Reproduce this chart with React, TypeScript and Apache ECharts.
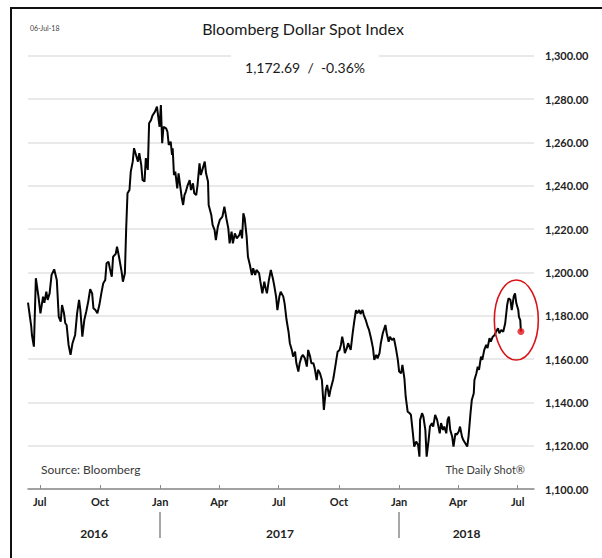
import { useEffect, useRef } from "react";
import * as echarts from "echarts";

// Bloomberg Dollar Spot Index, closes as [MM-DD, value] per year
const spot2016: [string, number][] = [
  ["06-13", 1186.0], ["06-18", 1174.9], ["06-19", 1171.1], ["06-22", 1165.7], ["06-25", 1197.3],
  ["06-29", 1188.8], ["07-02", 1181.1], ["07-06", 1188.8], ["07-08", 1185.9], ["07-11", 1191.1],
  ["07-13", 1187.3], ["07-16", 1190.3], ["07-19", 1198.8], ["07-23", 1201.4], ["07-27", 1196.5],
  ["07-30", 1179.5], ["08-02", 1177.2], ["08-04", 1184.9], ["08-07", 1181.1], ["08-09", 1176.5],
  ["08-11", 1175.7], ["08-14", 1166.5], ["08-17", 1161.9], ["08-20", 1167.3], ["08-24", 1171.1],
  ["08-27", 1181.1], ["08-30", 1187.3], ["09-01", 1182.6], ["09-04", 1170.3], ["09-07", 1178.0],
  ["09-10", 1181.9], ["09-13", 1186.5], ["09-16", 1192.2], ["09-19", 1190.3], ["09-21", 1183.4],
  ["09-24", 1182.6], ["09-27", 1181.1], ["09-30", 1184.9], ["10-03", 1190.3], ["10-06", 1195.0],
  ["10-09", 1196.5], ["10-11", 1204.2], ["10-14", 1204.9], ["10-16", 1201.9], ["10-19", 1198.0],
  ["10-21", 1207.2], ["10-25", 1208.5], ["10-27", 1211.9], ["10-30", 1207.2], ["11-03", 1200.3],
  ["11-05", 1195.7], ["11-08", 1199.6], ["11-10", 1220.3], ["11-12", 1236.5], ["11-15", 1238.0],
  ["11-17", 1246.5], ["11-20", 1251.1], ["11-22", 1257.3], ["11-25", 1254.2], ["11-28", 1251.1],
  ["11-30", 1255.0], ["12-03", 1249.6], ["12-05", 1242.6], ["12-08", 1241.9], ["12-10", 1252.7],
  ["12-13", 1247.3], ["12-15", 1268.8], ["12-18", 1270.3], ["12-20", 1272.3], ["12-24", 1274.2],
  ["12-27", 1276.5], ["12-29", 1271.8], ["12-31", 1267.2],
];

const spot2017: [string, number][] = [
  ["01-02", 1277.2], ["01-04", 1259.6], ["01-06", 1267.2], ["01-10", 1266.5], ["01-12", 1264.9],
  ["01-14", 1258.8], ["01-17", 1260.3], ["01-19", 1254.2], ["01-20", 1257.3], ["01-22", 1244.9],
  ["01-24", 1246.5], ["01-27", 1238.8], ["01-29", 1245.7], ["02-01", 1238.8], ["02-03", 1234.2],
  ["02-05", 1231.1], ["02-07", 1235.7], ["02-09", 1237.2], ["02-12", 1240.3], ["02-15", 1242.6],
  ["02-17", 1238.0], ["02-20", 1241.1], ["02-22", 1236.5], ["02-25", 1235.7], ["02-27", 1240.3],
  ["03-02", 1250.3], ["03-04", 1244.9], ["03-07", 1248.0], ["03-10", 1251.1], ["03-12", 1245.7],
  ["03-15", 1241.9], ["03-16", 1231.1], ["03-20", 1226.5], ["03-22", 1221.9], ["03-25", 1219.6],
  ["03-27", 1214.9], ["03-30", 1221.1], ["04-02", 1224.2], ["04-06", 1225.7], ["04-09", 1230.3],
  ["04-12", 1225.0], ["04-15", 1220.3], ["04-17", 1213.4], ["04-20", 1218.8], ["04-22", 1213.4],
  ["04-25", 1218.0], ["04-28", 1215.7], ["05-02", 1217.3], ["05-04", 1219.6], ["05-06", 1215.7],
  ["05-08", 1227.3], ["05-10", 1225.0], ["05-13", 1216.5], ["05-15", 1207.2], ["05-18", 1203.4],
  ["05-21", 1198.8], ["05-23", 1201.9], ["05-26", 1198.8], ["05-28", 1201.1], ["06-01", 1199.6],
  ["06-03", 1195.7], ["06-06", 1190.3], ["06-09", 1195.7], ["06-11", 1192.7], ["06-13", 1190.3],
  ["06-16", 1196.5], ["06-19", 1201.1], ["06-22", 1197.3], ["06-24", 1194.2], ["06-27", 1188.8],
  ["06-29", 1182.6], ["07-02", 1188.8], ["07-04", 1191.1], ["07-08", 1188.8], ["07-10", 1185.7],
  ["07-13", 1178.0], ["07-16", 1172.6], ["07-18", 1167.3], ["07-21", 1164.2], ["07-23", 1161.1],
  ["07-26", 1163.4], ["07-28", 1158.0], ["07-31", 1154.2], ["08-02", 1158.0], ["08-05", 1161.1],
  ["08-07", 1161.9], ["08-10", 1160.3], ["08-13", 1156.5], ["08-15", 1164.2], ["08-18", 1161.1],
  ["08-20", 1158.0], ["08-23", 1158.0], ["08-25", 1155.7], ["08-28", 1150.3], ["08-30", 1155.0],
  ["09-02", 1153.4], ["09-05", 1150.3], ["09-08", 1136.5], ["09-11", 1145.7], ["09-13", 1148.0],
  ["09-16", 1142.6], ["09-18", 1145.7], ["09-22", 1150.3], ["09-23", 1151.9], ["09-27", 1159.6],
  ["09-29", 1163.4], ["10-02", 1164.2], ["10-04", 1166.5], ["10-06", 1170.3], ["10-08", 1167.3],
  ["10-10", 1162.7], ["10-13", 1165.0], ["10-15", 1167.3], ["10-19", 1164.2], ["10-22", 1171.9],
  ["10-24", 1176.5], ["10-27", 1182.6], ["10-29", 1181.1], ["11-01", 1182.6], ["11-03", 1180.8],
  ["11-06", 1182.6], ["11-08", 1180.3], ["11-11", 1178.0], ["11-14", 1174.9], ["11-16", 1173.4],
  ["11-19", 1169.6], ["11-22", 1165.0], ["11-24", 1159.6], ["11-27", 1161.9], ["11-29", 1160.3],
  ["12-02", 1162.7], ["12-04", 1167.3], ["12-07", 1171.9], ["12-11", 1175.7], ["12-13", 1171.9],
  ["12-16", 1168.0], ["12-18", 1170.3], ["12-21", 1168.8], ["12-24", 1169.6], ["12-27", 1165.0],
  ["12-30", 1159.6],
];

const spot2018: [string, number][] = [
  ["01-01", 1154.2], ["01-04", 1153.4], ["01-06", 1157.3], ["01-09", 1151.1], ["01-11", 1142.6],
  ["01-14", 1135.7], ["01-17", 1135.0], ["01-19", 1134.2], ["01-22", 1125.7], ["01-24", 1119.6],
  ["01-27", 1121.9], ["01-30", 1120.3], ["02-01", 1114.9], ["02-02", 1131.9], ["02-05", 1135.0],
  ["02-07", 1133.4], ["02-10", 1127.3], ["02-12", 1114.9], ["02-15", 1122.6], ["02-17", 1128.8],
  ["02-20", 1130.4], ["02-22", 1128.8], ["02-25", 1134.2], ["02-28", 1131.9], ["03-02", 1128.8],
  ["03-04", 1125.7], ["03-06", 1130.4], ["03-09", 1127.3], ["03-11", 1128.8], ["03-14", 1125.7],
  ["03-16", 1131.9], ["03-18", 1133.4], ["03-20", 1127.3], ["03-23", 1124.2], ["03-25", 1119.6],
  ["03-28", 1125.7], ["03-30", 1125.0], ["04-02", 1126.5], ["04-04", 1128.8], ["04-07", 1124.2],
  ["04-09", 1122.6], ["04-12", 1121.1], ["04-15", 1119.6], ["04-17", 1124.2], ["04-20", 1135.0],
  ["04-22", 1141.1], ["04-25", 1144.2], ["04-26", 1150.3], ["04-29", 1153.4], ["05-01", 1156.5],
  ["05-03", 1155.0], ["05-06", 1161.1], ["05-08", 1159.6], ["05-11", 1164.2], ["05-14", 1166.5],
  ["05-16", 1165.0], ["05-19", 1169.6], ["05-21", 1168.0], ["05-24", 1170.3], ["05-27", 1171.1],
  ["05-29", 1172.6], ["06-01", 1174.2], ["06-03", 1171.9], ["06-06", 1173.4], ["06-09", 1172.6],
  ["06-12", 1176.5], ["06-15", 1184.9], ["06-17", 1188.0], ["06-20", 1187.3], ["06-22", 1182.6],
  ["06-25", 1188.8], ["06-27", 1190.3], ["06-29", 1185.7], ["07-02", 1182.6], ["07-03", 1179.5],
  ["07-05", 1178.0], ["07-06", 1172.69],
];

const axisStart = "2016-06-13";
const axisEnd = "2018-07-26";
const quarterNames: Record<string, string> = { "01": "Jan", "04": "Apr", "07": "Jul", "10": "Oct" };
const yearLabels = ["2016", "2017", "2018"];
const highlightCenter: [string, number] = ["2018-06-29", 1178];

const headline = "Bloomberg Dollar Spot Index";
const asOfDate = "06-Jul-18";
const lastClose = "1,172.69";
const dayChange = "-0.36%";
const sourceNote = "Source: Bloomberg";
const brandNote = "The Daily Shot®";

const FONT = "Lato, 'Open Sans', sans-serif";

function dayRange(from: string, to: string): string[] {
  const out: string[] = [];
  let t = Date.parse(from + "T00:00:00Z");
  const end = Date.parse(to + "T00:00:00Z");
  while (t <= end) {
    out.push(new Date(t).toISOString().slice(0, 10));
    t += 86400000;
  }
  return out;
}

export default function App() {
  const ref = useRef<HTMLDivElement>(null);

  useEffect(() => {
    if (!ref.current) return;
    const chart = echarts.init(ref.current, undefined, { renderer: "svg" });

    const days = dayRange(axisStart, axisEnd);
    const closes = new Map<string, number>();
    ([["2016", spot2016], ["2017", spot2017], ["2018", spot2018]] as [string, [string, number][]][]).forEach(
      ([yr, rows]) => rows.forEach(([md, v]) => closes.set(`${yr}-${md}`, v))
    );
    const lineData = days.map((d) => (closes.has(d) ? closes.get(d)! : null));
    const lastRow = spot2018[spot2018.length - 1];
    const lastIdx = days.indexOf(`2018-${lastRow[0]}`);

    const isQuarter = (v: string) => v.slice(8) === "01" && quarterNames[v.slice(5, 7)] !== undefined;

    // centre of each year's visible span carries the year label
    const yearMid = new Set<number>();
    yearLabels.forEach((y) => {
      const first = days.findIndex((d) => d.startsWith(y));
      let last = -1;
      days.forEach((d, i) => {
        if (d.startsWith(y)) last = i;
      });
      const nextJan = days.indexOf(`${Number(y) + 1}-01-01`);
      const endIdx = nextJan >= 0 ? nextJan : last;
      yearMid.add(Math.round((first + endIdx) / 2));
    });

    chart.setOption({
      animation: false,
      backgroundColor: "#ffffff",
      textStyle: { fontFamily: FONT },
      grid: { left: 28, right: 68, top: 55.7, bottom: 69, containLabel: false },
      xAxis: [
        {
          type: "category",
          data: days,
          boundaryGap: false,
          axisLine: { lineStyle: { color: "#8a8a8a", width: 1.5 } },
          axisTick: {
            show: true,
            inside: true,
            length: 4,
            interval: (_i: number, v: string) => isQuarter(v),
            lineStyle: { color: "#8a8a8a", width: 1 },
          },
          axisLabel: {
            interval: (_i: number, v: string) => isQuarter(v),
            formatter: (v: string) => (isQuarter(v) ? quarterNames[v.slice(5, 7)] : ""),
            margin: 7,
            fontSize: 11,
            fontWeight: "bold",
            color: "#222",
            fontFamily: FONT,
          },
          splitLine: { show: false },
        },
        {
          type: "category",
          data: days,
          boundaryGap: false,
          position: "bottom",
          offset: 23,
          axisLine: { show: false },
          axisTick: {
            show: true,
            length: 26,
            interval: (_i: number, v: string) => v.endsWith("-01-01"),
            lineStyle: { color: "#8a8a8a", width: 1.5 },
          },
          axisLabel: {
            interval: (i: number) => yearMid.has(i),
            formatter: (v: string, i: number) => (yearMid.has(i) ? v.slice(0, 4) : ""),
            margin: 15,
            fontSize: 12,
            fontWeight: "bold",
            color: "#222",
            fontFamily: FONT,
          },
          splitLine: { show: false },
        },
      ],
      yAxis: {
        type: "value",
        position: "right",
        min: 1100,
        max: 1300,
        interval: 20,
        axisLine: { show: false },
        axisTick: { show: false },
        splitLine: { lineStyle: { color: "#e2e2e2", width: 1.5 } },
        axisLabel: {
          margin: 11,
          fontSize: 11,
          fontWeight: "bold",
          color: "#222",
          fontFamily: FONT,
          formatter: (v: number) =>
            v.toLocaleString("en-US", { minimumFractionDigits: 2, maximumFractionDigits: 2 }),
        },
      },
      series: [
        {
          type: "line",
          xAxisIndex: 0,
          data: lineData,
          connectNulls: true,
          showSymbol: false,
          lineStyle: { color: "#050505", width: 2 },
          z: 3,
        },
        {
          type: "scatter",
          xAxisIndex: 0,
          data: [[lastIdx, lastRow[1]]],
          symbolSize: 7,
          itemStyle: { color: "#e3161c" },
          z: 5,
        },
      ],
    });

    const centre = chart.convertToPixel({ gridIndex: 0 }, [days.indexOf(highlightCenter[0]), highlightCenter[1]]) as number[];

    chart.setOption({
      graphic: [
        {
          type: "rect",
          z: 200,
          silent: true,
          shape: { x: 11, y: 8, width: 700, height: 700 },
          style: { fill: "none", stroke: "#111", lineWidth: 2 },
        },
        {
          type: "text",
          z: 200,
          x: 30,
          y: 28,
          style: { text: asOfDate, fontSize: 7, fill: "#444", fontFamily: FONT, verticalAlign: "middle" },
        },
        {
          type: "text",
          z: 200,
          x: 303,
          y: 28,
          style: {
            text: headline,
            fontSize: 16,
            fill: "#1a1a1a",
            fontFamily: FONT,
            align: "center",
            verticalAlign: "middle",
          },
        },
        {
          type: "text",
          z: 200,
          x: 305,
          y: 67,
          style: {
            text: `${lastClose}  /  ${dayChange}`,
            fontSize: 14,
            fill: "#1a1a1a",
            fontFamily: FONT,
            align: "center",
            verticalAlign: "middle",
            backgroundColor: "#ffffff",
            padding: [7, 14, 4, 14],
          },
        },
        {
          type: "text",
          z: 200,
          x: 41,
          y: 469,
          style: { text: sourceNote, fontSize: 12, fill: "#3a3a3a", fontFamily: FONT, verticalAlign: "middle" },
        },
        {
          type: "text",
          z: 200,
          x: 525,
          y: 469,
          style: {
            text: brandNote,
            fontSize: 11,
            fill: "#3a3a3a",
            fontFamily: FONT,
            align: "right",
            verticalAlign: "middle",
          },
        },
        {
          type: "ellipse",
          z: 200,
          silent: true,
          shape: { cx: centre[0], cy: centre[1], rx: 22, ry: 40 },
          style: { fill: "none", stroke: "#d8141a", lineWidth: 1.6 },
        },
      ],
    });

    return () => chart.dispose();
  }, []);

  return (
    <div
      ref={ref}
      style={{ position: "absolute", left: 0, top: 0, width: 602, height: 558, background: "#fff" }}
    />
  );
}
